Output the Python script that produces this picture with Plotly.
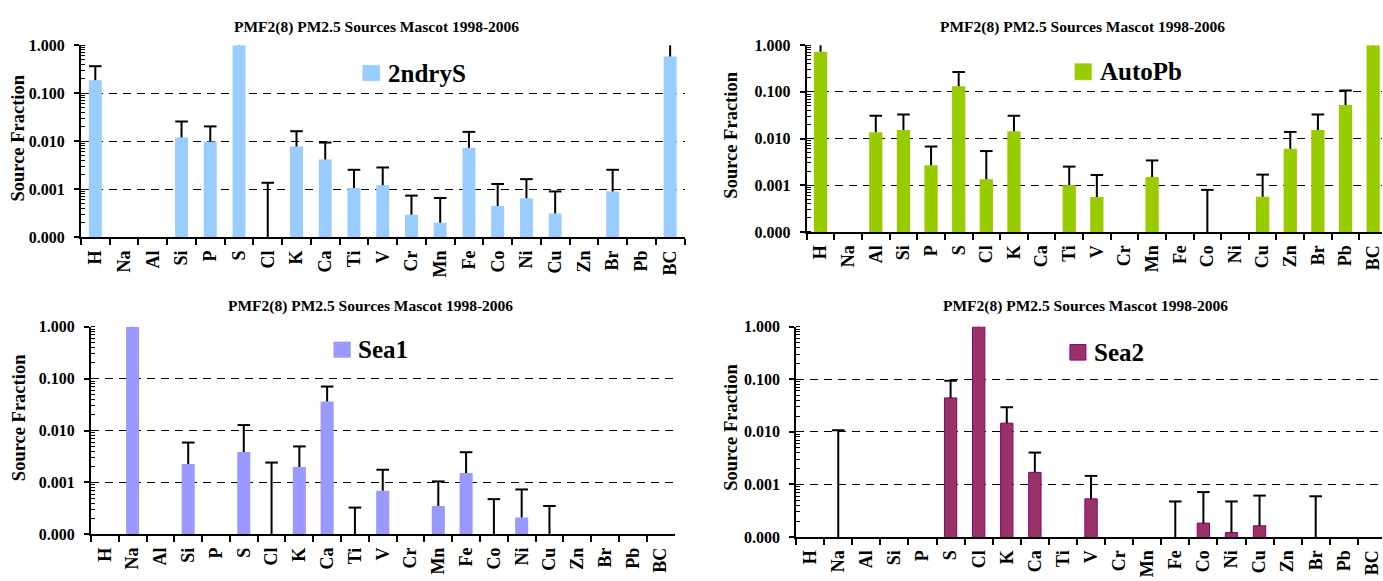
import plotly.graph_objects as go

# ---------------- data ----------------
elements = ["H", "Na", "Al", "Si", "P", "S", "Cl", "K", "Ca", "Ti", "V",
            "Cr", "Mn", "Fe", "Co", "Ni", "Cu", "Zn", "Br", "Pb", "BC"]

title_text = "PMF2(8) PM2.5 Sources Mascot 1998-2006"
y_title = "Source Fraction"
y_tick_format = ".3f"   # log decades labelled 0.000, 0.001, 0.010, 0.100, 1.000

# source profile values (fraction) and top of the error bar
s2_val = [0.187, 0, 0, 0.0120, 0.00985, 1.0, 0, 0.0078, 0.0042, 0.00107, 0.00121,
          0.000296, 0.000201, 0.00733, 0.00045, 0.000653, 0.000315, 0, 0.000904, 0, 0.581]
s2_err = [0.365, None, None, 0.0258, 0.0204, 1.11, 0.00137, 0.0162, 0.0094, 0.00255, 0.00285,
          0.00074, 0.00066, 0.0157, 0.00129, 0.00163, 0.000904, None, 0.00255, None, 1.11]

auto_val = [0.727, 0, 0.01365, 0.0153, 0.00268, 0.1318, 0.00135, 0.0143, 0, 0.000996, 0.000561,
            0, 0.00151, 0, 0, 0, 0.00057, 0.00605, 0.0153, 0.0522, 1.0]
auto_err = [1.12, None, 0.0308, 0.0328, 0.00676, 0.266, 0.0054, 0.0308, None, 0.00251, 0.00166,
            None, 0.0034, None, 0.000796, None, 0.00169, 0.01387, 0.0328, 0.107, 1.12]

sea1_val = [0, 1.0, 0, 0.00228, 0, 0.00388, 0, 0.00198, 0.0364, 0, 0.000693,
            0, 0.000353, 0.00153, 0, 0.000211, 0, 0, 0, 0, 0]
sea1_err = [None, 1.1, None, 0.00588, None, 0.01276, 0.00242, 0.00495, 0.0704, 0.000329, 0.00176,
            None, 0.00105, 0.00383, 0.000478, 0.000735, 0.000353, None, None, None, None]

sea2_val = [0, 0, 0, 0, 0, 0.0443, 1.0, 0.01465, 0.0017, 0, 0.000532,
            0, 0, 0, 0.000184, 0.000122, 0.000164, 0, 0, 0, 0]
sea2_err = [None, 0.01074, None, None, None, 0.0938, 1.1, 0.0294, 0.00404, None, 0.001455,
            None, None, 0.000475, 0.000716, 0.000475, 0.000614, None, 0.000596, None, None]

source_names = ["2ndryS", "AutoPb", "Sea1", "Sea2"]

# ---------------- layout helpers ----------------
W, H = 1383, 581
FLOOR = 0.0001  # bottom of the log axis, labelled 0.000
SERIF = "Liberation Serif, Times New Roman, Times, serif"


def px(x):
    return x / W


def py(y):
    return 1 - y / H


panels = [
    dict(name=source_names[0], val=s2_val, err=s2_err, color="#99CCFF", lc="#99CCFF", lw=0,
         dx=(81, 685), dy=(38.3, 236.3), xr=(-0.5, 20.5),
         tpos=(377, 20), ytpos=(18.5, 134), leg=(363, 59, 380, 75), bw=0.45),
    dict(name=source_names[1], val=auto_val, err=auto_err, color="#99CC00", lc="#99CC00", lw=0,
         dx=(807.3, 1383), dy=(38.3, 230.7), xr=(-0.5, 20.32),
         tpos=(1083.5, 20), ytpos=(732, 131), leg=(1075.7, 57.3, 1092.3, 74), bw=0.48),
    dict(name=source_names[2], val=sea1_val, err=sea1_err, color="#9999FF", lc="#9999FF", lw=0,
         dx=(91, 675), dy=(328.3, 542.3), xr=(-0.5, 20.5),
         tpos=(370.5, 307), ytpos=(18.5, 422), leg=(334, 344, 350.7, 360), bw=0.47),
    dict(name=source_names[3], val=sea2_val, err=sea2_err, color="#993366", lc="#800080", lw=1,
         dx=(796.7, 1383), dy=(328.3, 545), xr=(-0.5, 20.36),
         tpos=(1086, 307), ytpos=(732, 432), leg=(1070.7, 346.7, 1086.7, 362.7), bw=0.44),
]

fig = go.Figure()
annotations = []
shapes = []
layout_axes = {}

for i, p in enumerate(panels):
    n = "" if i == 0 else str(i + 1)
    xa, ya = "x" + n, "y" + n

    bar_y = [v if v > 0 else None for v in p["val"]]
    fig.add_trace(go.Bar(
        x=elements, y=bar_y, xaxis=xa, yaxis=ya, width=p["bw"],
        marker=dict(color=p["color"], line=dict(color=p["lc"], width=p["lw"])),
        showlegend=False, name=p["name"]))

    # error bars (upper only): stems + caps
    ex, ey, cx, cy = [], [], [], []
    for el, v, t in zip(elements, p["val"], p["err"]):
        if t is None:
            continue
        base = v if v > 0 else FLOOR
        ex += [el, el, None]
        ey += [base, t, None]
        cx.append(el)
        cy.append(t)
    fig.add_trace(go.Scatter(
        x=ex, y=ey, xaxis=xa, yaxis=ya, mode="lines",
        line=dict(color="black", width=2), showlegend=False, hoverinfo="skip",
        cliponaxis=False))
    fig.add_trace(go.Scatter(
        x=cx, y=cy, xaxis=xa, yaxis=ya, mode="markers",
        marker=dict(symbol="line-ew", size=9, line=dict(color="black", width=2)),
        showlegend=False, hoverinfo="skip", cliponaxis=False))

    layout_axes["xaxis" + n] = dict(
        domain=[px(p["dx"][0]), px(p["dx"][1])], anchor=ya,
        type="category", categoryorder="array", categoryarray=elements,
        range=list(p["xr"]), tickson="boundaries", ticks="outside", ticklen=6,
        tickwidth=2, tickcolor="black", showline=True, linewidth=2, linecolor="black",
        showgrid=False, zeroline=False, tickangle=-90, ticklabelstandoff=4,
        tickfont=dict(family=SERIF, size=18, color="black", weight="bold"))
    layout_axes["yaxis" + n] = dict(
        domain=[py(p["dy"][1]), py(p["dy"][0])], anchor=xa,
        type="log", range=[-4, 0], tickmode="linear", tick0=0, dtick=1,
        tickformat=y_tick_format,
        ticks="outside", ticklen=5, tickwidth=2, tickcolor="black",
        showline=True, linewidth=2, linecolor="black", zeroline=False,
        showgrid=True, gridcolor="black", gridwidth=1, griddash="8px,6px",
        ticklabelstandoff=6,
        minor=dict(dtick="D1", ticks="inside", ticklen=4,
                   tickwidth=1, tickcolor="black", showgrid=False),
        tickfont=dict(family=SERIF, size=16, color="black", weight="bold"))

    annotations.append(dict(
        x=px(p["tpos"][0]), y=py(p["tpos"][1]), xref="paper", yref="paper",
        text=title_text, showarrow=False, xanchor="center", yanchor="middle",
        font=dict(family=SERIF, size=15.5, color="black", weight="bold")))
    annotations.append(dict(
        x=px(p["ytpos"][0]), y=py(p["ytpos"][1]), xref="paper", yref="paper",
        text=y_title, showarrow=False, textangle=-90, xanchor="center", yanchor="middle",
        font=dict(family=SERIF, size=18.5, color="black", weight="bold")))
    x0, y0, x1, y1 = p["leg"]
    shapes.append(dict(type="rect", xref="paper", yref="paper",
                       x0=px(x0), x1=px(x1), y0=py(y1), y1=py(y0),
                       fillcolor=p["color"], line=dict(color=p["lc"], width=max(p["lw"], 0.5))))
    annotations.append(dict(
        x=px(x1 + 6), y=py((y0 + y1) / 2), xref="paper", yref="paper",
        text=p["name"], showarrow=False, xanchor="left", yanchor="middle",
        font=dict(family=SERIF, size=25, color="black", weight="bold")))

fig.update_layout(
    width=W, height=H, margin=dict(l=0, r=0, t=0, b=0),
    paper_bgcolor="white", plot_bgcolor="white",
    font=dict(family=SERIF),
    showlegend=False, annotations=annotations, shapes=shapes,
    **layout_axes)

fig.write_html("out.html")
